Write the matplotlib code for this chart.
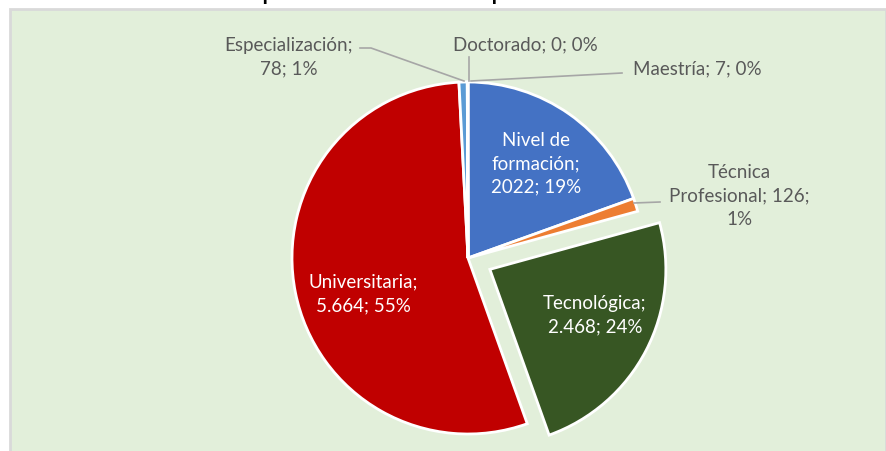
import numpy as np
import matplotlib
matplotlib.use("Agg")
import matplotlib.pyplot as plt
from matplotlib.patches import Rectangle

plt.rcParams['font.family'] = ['Lato', 'DejaVu Sans']

# data
categorias = ["Nivel de\nformación", "Técnica\nProfesional", "Tecnológica",
              "Universitaria", "Especialización", "Maestría", "Doctorado"]
valores = [2022, 126, 2468, 5664, 78, 7, 0]
textos_valor = ["2022", "126", "2.468", "5.664", "78", "7", "0"]
porcentajes = ["19%", "1%", "24%", "55%", "1%", "0%", "0%"]
colores = ["#4472C4", "#ED7D31", "#375623", "#C00000", "#5B9BD5", "#A5A5A5", "#FFC000"]
separar = [0, 0, 0.14, 0, 0, 0, 0]

W, H = 886, 451
fig = plt.figure(figsize=(W / 100, H / 100), dpi=100, facecolor="white")

# green chart panel
bg = fig.add_axes([0, 0, 1, 1])
bg.set_xlim(0, W)
bg.set_ylim(H, 0)
bg.axis("off")
bg.add_patch(Rectangle((10, 8.5), 876, 460, facecolor="#E2EFDA",
                       edgecolor="#D9D9D9", linewidth=2))

# title, mostly cut off at the top of the picture (as in the source)
fig.text(0.5, 1 - 0.5 / H, "Número promedio de Graduados por Nivel de formación",
         ha="center", va="baseline", fontsize=15, fontweight="bold", color="black")

# pie axes: centre (468, 258) px, radius 176 px
cx, cy, R = 468, 258, 176
half = 1.25 * R
ax = fig.add_axes([(cx - half) / W, (H - cy - half) / H, 2 * half / W, 2 * half / H])
ax.set_xlim(-1.25, 1.25)
ax.set_ylim(-1.25, 1.25)
ax.axis("off")

wedges, _ = ax.pie(valores, colors=colores, startangle=90, counterclock=False,
                   explode=separar, radius=1.0,
                   wedgeprops=dict(edgecolor="white", linewidth=2))

gris = "#595959"
linea = "#A6A6A6"
fs = 13.5
ls = 1.45


def px(p):
    return ((p[0] - cx) / R, (cy - p[1]) / R)


# labels inside the slices (white)
dentro = {0: (536, 164), 2: (595, 315), 3: (363, 294)}
for i, p in dentro.items():
    txt = f"{categorias[i]};\n{textos_valor[i]}; {porcentajes[i]}"
    ax.text(*px(p), txt, ha="center", va="center", color="white", fontsize=fs,
            linespacing=ls)

# outside labels with leader lines
ax.text(*px((739, 196)), f"Técnica\nProfesional; {textos_valor[1]};\n{porcentajes[1]}",
        ha="center", va="center", color=gris, fontsize=fs, linespacing=ls)
ax.plot(*zip(px((634, 203)), px((660, 202))), color=linea, lw=1.2)

ax.text(*px((289, 57)), f"{categorias[4]};\n{textos_valor[4]}; {porcentajes[4]}",
        ha="center", va="center", color=gris, fontsize=fs, linespacing=ls)
ax.plot(*zip(px((360, 48)), px((371, 48)), px((464, 81))), color=linea, lw=1.2)

ax.text(*px((525, 45)), f"{categorias[6]}; {textos_valor[6]}; {porcentajes[6]}",
        ha="center", va="center", color=gris, fontsize=fs)
ax.plot(*zip(px((469, 57)), px((469, 81))), color=linea, lw=1.2)

ax.text(*px((697, 69)), f"{categorias[5]}; {textos_valor[5]}; {porcentajes[5]}",
        ha="center", va="center", color=gris, fontsize=fs)
ax.plot(*zip(px((471, 81)), px((622, 73))), color=linea, lw=1.2)

fig.savefig("out.png", dpi=100, facecolor="white")
